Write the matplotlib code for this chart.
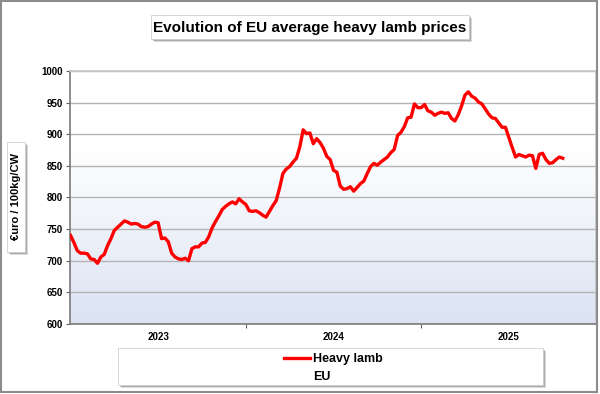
import numpy as np
import matplotlib.pyplot as plt
from matplotlib.patches import Rectangle
from matplotlib.lines import Line2D

plt.rcParams['font.family'] = ['Liberation Sans', 'DejaVu Sans']

# weekly EU heavy lamb price, euro / 100kg CW, from first week of 2023
prices = [740, 729, 716, 712, 712, 711, 703, 702, 696, 706,
          710, 724, 735, 748, 753, 758, 763, 761, 758, 759,
          758, 754, 753, 754, 758, 761, 760, 735, 736, 730,
          712, 706, 703, 702, 704, 700, 719, 722, 722, 728,
          729, 738, 752, 762, 771, 781, 786, 790, 793, 790,
          798, 793, 789, 779, 778, 779, 776, 772, 769, 778,
          787, 795, 815, 838, 845, 849, 856, 862, 880, 907,
          901, 902, 885, 893, 887, 878, 865, 860, 843, 840,
          818, 813, 814, 817, 810, 816, 822, 826, 838, 849,
          854, 851, 856, 860, 864, 871, 876, 898, 903, 912,
          926, 927, 948, 942, 942, 947, 937, 935, 930, 933,
          935, 933, 934, 925, 921, 931, 945, 962, 967, 960,
          957, 951, 948, 940, 932, 926, 925, 918, 911, 911,
          895, 879, 864, 868, 866, 864, 867, 866, 846, 868,
          870, 860, 854, 855, 860, 864, 862]
weeks = np.arange(len(prices))
years = ['2023', '2024', '2025']
weeks_per_year = 52

fig = plt.figure(figsize=(6, 3.94), dpi=100)
W, H = 600, 394

def fx(px):
    return px / W

def fy(py):
    return 1 - py / H

# outer frame
fig.patches.append(Rectangle((fx(1), fy(392)), fx(596), 391 / H, transform=fig.transFigure,
                             fill=False, edgecolor='#8c8c8c', lw=1.5))

ax = fig.add_axes([fx(70), fy(324), fx(526), 253 / H])
x0, x1 = -0.15, 3 * weeks_per_year - 0.15
ax.set_xlim(x0, x1)
ax.set_ylim(600, 1000)

# background gradient, white on top to pale blue at the bottom
t = np.linspace(0, 1, 256)
shade = np.clip((t - 0.3) / 0.7, 0, 1)
top = np.array([1.0, 1.0, 1.0])
bot = np.array([0.86, 0.89, 0.95])
grad = top[None, :] * (1 - shade[:, None]) + bot[None, :] * shade[:, None]
ax.imshow(grad[:, None, :], aspect='auto', extent=[x0, x1, 600, 1000],
          origin='upper', zorder=0)

ax.set_yticks(np.arange(600, 1001, 50))
ax.grid(axis='y', color='#b4b4b4', lw=1, zorder=1)
ax.plot(weeks, prices, color='#ff0000', lw=2.4, zorder=3, solid_joinstyle='round')

ax.set_xticks([weeks_per_year, 2 * weeks_per_year])
ax.set_xticklabels([])
ax.set_xticks([weeks_per_year * (i + 0.5) for i in range(3)], minor=True)
ax.set_xticklabels(years, minor=True)
ax.tick_params(axis='x', which='minor', length=0, pad=6, labelsize=7)
ax.tick_params(axis='x', which='major', length=3, color='#606060')
ax.tick_params(axis='y', length=3, color='#606060', pad=2, labelsize=7)
for lab in ax.get_xticklabels(minor=True) + ax.get_yticklabels():
    lab.set_fontweight('bold')

ax.spines['left'].set_color('#7a7a7a')
ax.spines['bottom'].set_color('#7a7a7a')
ax.spines['top'].set_color('#c8c8c8')
ax.spines['right'].set_color('#c8c8c8')
for s in ax.spines.values():
    s.set_linewidth(1.2)

def shadow_box(x0, y0, x1, y1):
    # soft grey shadow then white box
    for off, a in [(3, 0.15), (2, 0.2), (1, 0.25)]:
        fig.patches.append(Rectangle((fx(x0 + off), fy(y1 + off)), fx(x1 - x0), (y1 - y0) / H,
                                     transform=fig.transFigure, color='black', alpha=a, lw=0))
    fig.patches.append(Rectangle((fx(x0), fy(y1)), fx(x1 - x0), (y1 - y0) / H,
                                 transform=fig.transFigure, facecolor='white',
                                 edgecolor='#d0d0d0', lw=0.6))

# title
shadow_box(151, 15, 469, 39)
fig.text(fx(310), fy(28), 'Evolution of EU average heavy lamb prices', ha='center', va='center',
         fontsize=11, fontweight='bold')

# y label
shadow_box(7, 142, 25, 252)
fig.text(fx(16), fy(197), '€uro / 100kg/CW', rotation=90, ha='center', va='center',
         fontsize=8, fontweight='bold')

# legend
shadow_box(118, 348, 543, 385)
handle = Line2D([], [], color='#ff0000', lw=2.4)
fig.legend(handles=[handle], labels=['Heavy lamb'], loc='center left',
           bbox_to_anchor=(fx(284), fy(359)), frameon=False,
           handlelength=2.1, handletextpad=0.2, borderpad=0, borderaxespad=0,
           prop={'weight': 'bold', 'size': 9})
fig.text(fx(313), fy(377), 'EU', ha='left', va='center', fontsize=9, fontweight='bold')

fig.savefig('out.png', dpi=100)
